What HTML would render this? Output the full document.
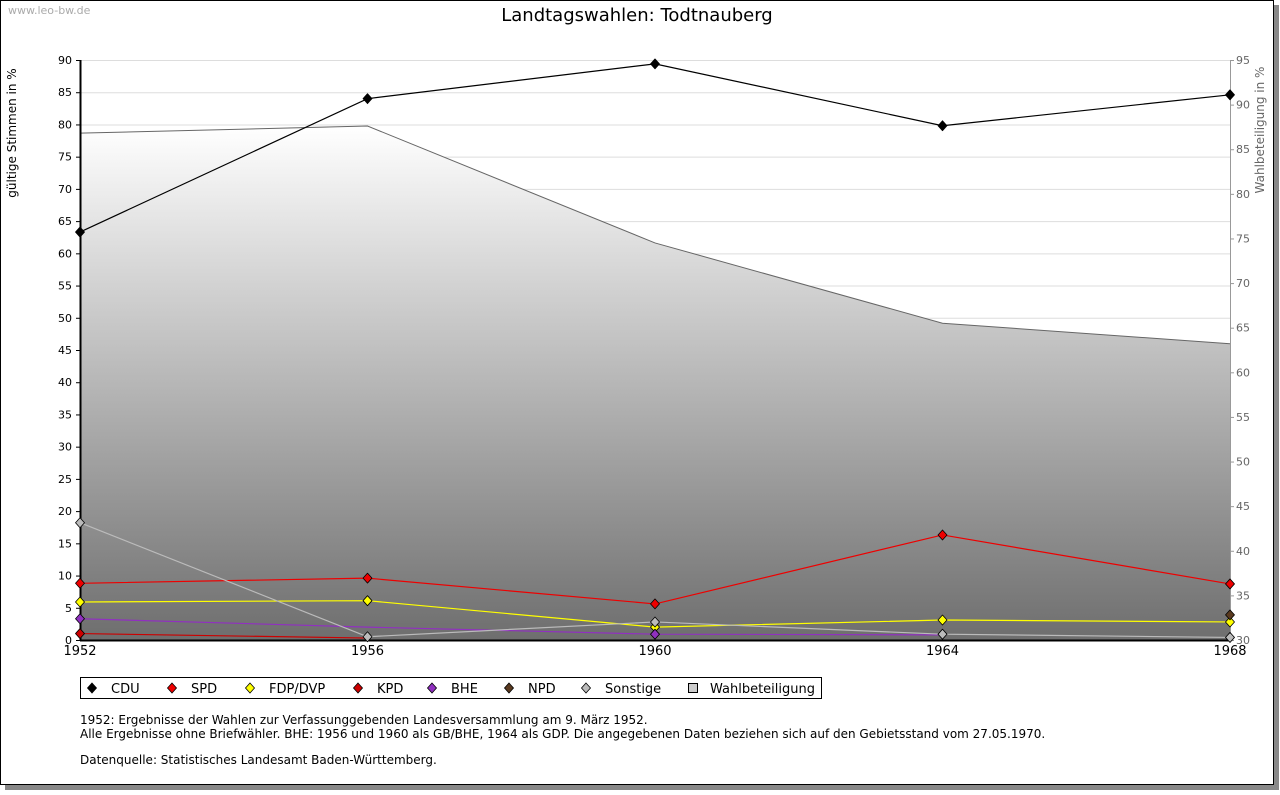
<!DOCTYPE html>
<html><head><meta charset="utf-8"><style>
body{margin:0;background:#fff;font-family:"DejaVu Sans","Liberation Sans",sans-serif;}
#wrap{position:relative;width:1280px;height:791px;}
</style></head><body>
<div id="wrap">
<svg id="svg" width="1280" height="791" xmlns="http://www.w3.org/2000/svg" font-family="DejaVu Sans, Liberation Sans, sans-serif">
<defs>
<linearGradient id="g" x1="0" y1="0" x2="0" y2="1">
<stop offset="0" stop-color="#ffffff"/><stop offset="1" stop-color="#6e6e6e"/>
</linearGradient>
</defs>
<rect x="5" y="5" width="1274" height="785" fill="#888"/>
<rect x="0.5" y="0.5" width="1273" height="784" fill="#fff" stroke="#000"/>
<text x="8" y="14" font-size="11" fill="#aaa">www.leo-bw.de</text>
<text x="637" y="21" font-size="18" text-anchor="middle">Landtagswahlen: Todtnauberg</text>
<g id="plot"></g>
<text transform="translate(16,133) rotate(-90)" font-size="12" text-anchor="middle">gültige Stimmen in %</text>
<text transform="translate(1264,130) rotate(-90)" font-size="12" text-anchor="middle" fill="#666">Wahlbeteiligung in %</text>
<rect x="80.5" y="677.5" width="741" height="21" fill="#fff" stroke="#000"/>
<g id="legend"></g>
<text font-size="12">
<tspan x="80" y="724">1952: Ergebnisse der Wahlen zur Verfassunggebenden Landesversammlung am 9. März 1952.</tspan>
<tspan x="80" y="738">Alle Ergebnisse ohne Briefwähler. BHE: 1956 und 1960 als GB/BHE, 1964 als GDP. Die angegebenen Daten beziehen sich auf den Gebietsstand vom 27.05.1970.</tspan>
<tspan x="80" y="764">Datenquelle: Statistisches Landesamt Baden-Württemberg.</tspan>
</text>
</svg>
</div>
<script>
const years=[1952,1956,1960,1964,1968];
const leftTicks=[0,5,10,15,20,25,30,35,40,45,50,55,60,65,70,75,80,85,90];
const rightTicks=[30,35,40,45,50,55,60,65,70,75,80,85,90,95];
const turnout=[86.8,87.6,74.5,65.5,63.2];
const cdu=[63.3,84.0,89.4,79.8,84.6];
const spd=[8.8,9.6,5.6,16.3,8.7];
const fdp=[5.9,6.1,2.0,3.1,2.8];
const kpd=[1.0,0.3,null,null,null];
const bhe=[3.3,2.0,0.9,0.8,null];
const npd=[null,null,null,null,3.9];
const sonst=[18.2,0.5,2.8,0.9,0.4];
const NS="http://www.w3.org/2000/svg";
const X0=80,X1=1230,Y0=640,Y1=60;
const xs=y=>X0+(y-1952)/(1968-1952)*(X1-X0);
const yl=v=>Y0-v/90*(Y0-Y1);
const yr=v=>Y0-(v-30)/65*(Y0-Y1);
const plot=document.getElementById('plot');
function mk(t,a,p){const e=document.createElementNS(NS,t);for(const k in a)e.setAttribute(k,a[k]);(p||plot).appendChild(e);return e;}
leftTicks.forEach(v=>{if(v>0){const l=mk('line',{x1:X0,x2:X1,y1:yl(v)+.5,y2:yl(v)+.5,stroke:'#ddd'});

}});
let d='M'+xs(years[0])+','+Y0;
years.forEach((y,i)=>{d+=' L'+xs(y)+','+yr(turnout[i]);});
d+=' L'+xs(years[4])+','+Y0+' Z';
const ar=mk('path',{d:d,fill:'url(#g)'});


const al=mk('polyline',{points:years.map((y,i)=>xs(y)+','+yr(turnout[i])).join(' '),fill:'none',stroke:'#666'});


mk('line',{x1:X0+.5,x2:X0+.5,y1:Y1,y2:Y0,stroke:'#000','stroke-width':2});
mk('line',{x1:X1+.5,x2:X1+.5,y1:Y1,y2:Y0,stroke:'#999'});
mk('line',{x1:X0,x2:X1,y1:Y0+.5,y2:Y0+.5,stroke:'#000','stroke-width':2});
leftTicks.forEach(v=>{mk('line',{x1:X0-4,x2:X0,y1:yl(v)+.5,y2:yl(v)+.5,stroke:'#000'});
const t=mk('text',{x:X0-8,y:yl(v)+4,'font-size':11,'text-anchor':'end'});t.textContent=v;

});
rightTicks.forEach(v=>{mk('line',{x1:X1,x2:X1+4,y1:yr(v)+.5,y2:yr(v)+.5,stroke:'#999'});
const t=mk('text',{x:X1+6,y:yr(v)+4,'font-size':11,fill:'#666'});t.textContent=v;

});
years.forEach(y=>{const t=mk('text',{x:xs(y),y:Y0+15,'font-size':13,'text-anchor':'middle'});t.textContent=y;

});
const series=[['cdu',cdu,'#000','#000'],['spd',spd,'#e00','#e00'],['fdp',fdp,'#ff0','#ff0'],['kpd',kpd,'#c00','#c00'],['bhe',bhe,'#9030c0','#9030c0'],['npd',npd,'#5a3a20','#5a3a20'],['sonstige',sonst,'#bbb','#bbb']];
series.forEach(([n,vals,c,f])=>{
 const pts=[];vals.forEach((v,i)=>{if(v!==null)pts.push(xs(years[i])+','+yl(v));});
 const pl=mk('polyline',{points:pts.join(' '),fill:'none',stroke:c,'stroke-width':1.2});
 
 
});
const markerOnly={kpd:[0],bhe:[0,2],npd:[4]};
series.forEach(([n,vals,c,f])=>{
 vals.forEach((v,i)=>{if(v===null)return;
  if(markerOnly[n]&&!markerOnly[n].includes(i))return;
  const x=xs(years[i]),y=yl(v);
  const m=mk('path',{d:`M${x},${y-5}L${x+4.5},${y}L${x},${y+5}L${x-4.5},${y}Z`,fill:f,stroke:'#000','stroke-width':.8,'stroke-linejoin':'round'});
  
  
 });
});
const lg=document.getElementById('legend');
const items=[['CDU','#000',92],['SPD','#e00',172],['FDP/DVP','#ff0',250],['KPD','#c00',358],['BHE','#9030c0',432],['NPD','#5a3a20',509],['Sonstige','#bbb',586]];
items.forEach(([t,c,x])=>{
 const g=mk('g',{},lg);
 
 
 mk('path',{d:`M${x},${683}L${x+4.5},688L${x},693L${x-4.5},688Z`,fill:c,stroke:'#000','stroke-width':.8},g);
 const tx=mk('text',{x:x+19,y:693,'font-size':13},g);tx.textContent=t;
});
const g=mk('g',{},lg);


mk('rect',{x:688.5,y:683.5,width:9,height:9,fill:'#ccc',stroke:'#000'},g);
const tx=mk('text',{x:710,y:693,'font-size':13},g);tx.textContent='Wahlbeteiligung';
</script>
</body></html>
